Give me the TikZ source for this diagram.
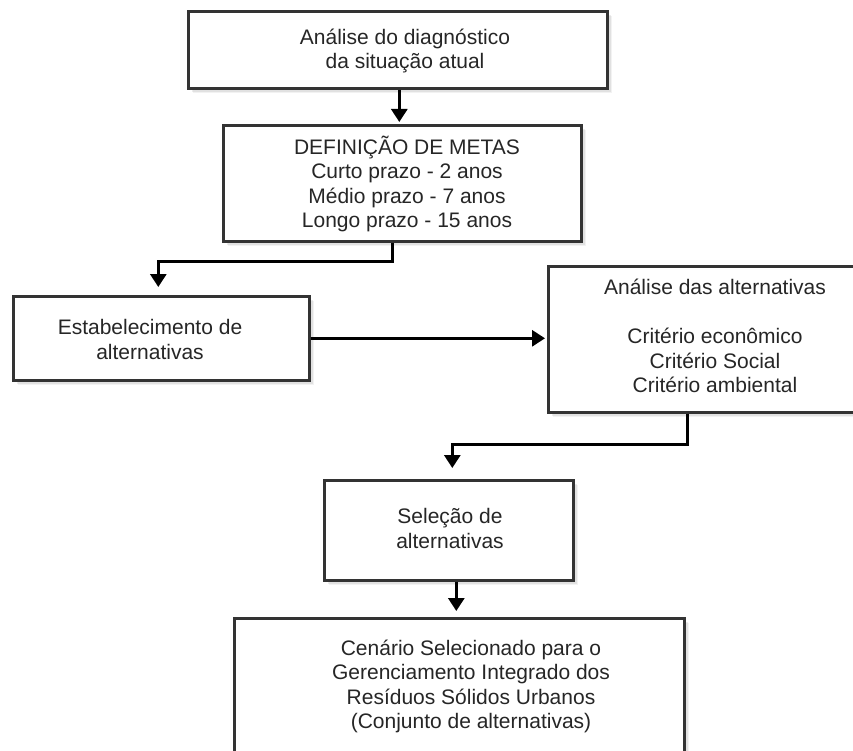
\documentclass[tikz,border=0pt]{standalone}
\usepackage{fontspec}
\setmainfont{Liberation Sans}
\usetikzlibrary{shadows,arrows.meta}
\definecolor{ink}{gray}{0.2}
\definecolor{txt}{gray}{0.15}
\begin{document}
\begin{tikzpicture}[x=1pt,y=-1pt,
  box/.style={draw=ink, line width=2.6pt, fill=white, rectangle, anchor=north west,
    inner sep=0pt,
    drop shadow={shadow xshift=5pt, shadow yshift=-5pt, opacity=0.10},
    drop shadow={shadow xshift=3.5pt, shadow yshift=-3.5pt, opacity=0.15},
    drop shadow={shadow xshift=2pt, shadow yshift=-2pt, opacity=0.2}},
  lbl/.style={align=center, text=txt, inner sep=0pt,
    font=\fontsize{21}{24.4}\selectfont},
  conn/.style={draw=black, line width=3pt},
  arr/.style={conn, -{Triangle[length=13pt,width=16pt]}}]
\useasboundingbox (0,0) rectangle (853,751);
\fill[white] (0,0) rectangle (853,751);
\clip (0,0) rectangle (853,751);

% boxes
\node[box, minimum width=419pt, minimum height=77pt]  (b1) at (187,10)  {};
\node[box, minimum width=358pt, minimum height=116pt] (b2) at (222,124) {};
\node[box, minimum width=296pt, minimum height=84pt]  (b3) at (12,295)  {};
\node[box, minimum width=336pt, minimum height=146pt] (b4) at (547,265) {};
\node[box, minimum width=249pt, minimum height=100pt] (b5) at (323,479) {};
\node[box, minimum width=450pt, minimum height=150pt] (b6) at (233,617) {};

% texts
\node[lbl] (t1) at (405,51)    {Análise do diagnóstico\\da situação atual};
\node[lbl] (t2) at (407,184)   {DEFINIÇÃO DE METAS\\Curto prazo - 2 anos\\Médio prazo - 7 anos\\Longo prazo - 15 anos};
\node[lbl] (t3) at (150,339.5) {Estabelecimento de\\alternativas};
\node[lbl] (t4) at (715,336)   {Análise das alternativas\\[24.4pt]Critério econômico\\Critério Social\\Critério ambiental};
\node[lbl] (t5) at (450,528.5) {Seleção de\\alternativas};
\node[lbl] (t6) at (471,686.5) {Cenário Selecionado para o\\Gerenciamento Integrado dos\\Resíduos Sólidos Urbanos\\(Conjunto de alternativas)};

% connectors
\draw[arr, shorten >=2pt] ([xshift=1.5pt]b1.south) -- ([xshift=1.5pt]b1.south |- b2.north);
\draw[arr, shorten >=8pt] ([xshift=-10pt]b2.south) -- ++(0,19) -| ([xshift=-3pt]b3.north);
\draw[arr, shorten >=2pt] (b3.east) -- (b3.east -| b4.west);
\draw[arr, shorten >=11pt] ([xshift=-29pt]b4.south) -- ++(0,31) -| ([xshift=3.5pt]b5.north);
\draw[arr, shorten >=6pt] ([xshift=7.5pt]b5.south) -- ([xshift=7.5pt]b5.south |- b6.north);
\end{tikzpicture}
\end{document}
